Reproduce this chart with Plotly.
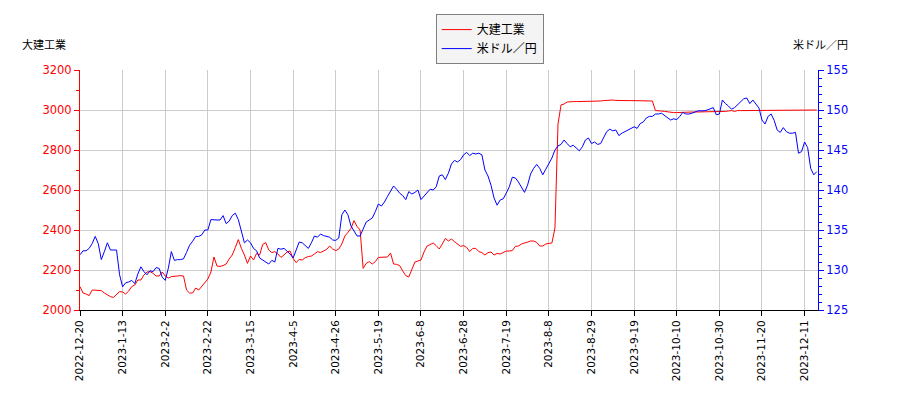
import plotly.graph_objects as go

# tick labels on the date axis (one every 14 trading days)
tick_dates = ["2022-12-20", "2023-1-13", "2023-2-2", "2023-2-22", "2023-3-15",
              "2023-4-5", "2023-4-26", "2023-5-19", "2023-6-8", "2023-6-28",
              "2023-7-19", "2023-8-8", "2023-8-29", "2023-9-19", "2023-10-10",
              "2023-10-30", "2023-11-20", "2023-12-11"]
tick_step = 14

# 大建工業 close (yen), one value per trading day
daiken = [
    2117, 2085, 2080, 2072, 2100, 2100, 2097, 2097, 2085, 2075, 2067, 2063, 2080, 2092,
    2090, 2080, 2095, 2117, 2125, 2150, 2150, 2175, 2190, 2192, 2183, 2170, 2170, 2190,
    2170, 2160, 2167, 2170, 2170, 2172, 2170, 2100, 2085, 2085, 2110, 2100, 2120, 2135,
    2155, 2190, 2265, 2220, 2218, 2222, 2230, 2255, 2275, 2312, 2352, 2308, 2275, 2233,
    2270, 2250, 2283, 2275, 2328, 2337, 2300, 2287, 2292, 2280, 2263, 2275, 2290, 2295,
    2258, 2237, 2253, 2250, 2262, 2267, 2270, 2280, 2292, 2287, 2293, 2303, 2320, 2305,
    2297, 2305, 2330, 2370, 2388, 2408, 2447, 2417, 2400, 2208, 2233, 2242, 2230, 2242,
    2263, 2263, 2263, 2265, 2285, 2230, 2228, 2222, 2195, 2172, 2165, 2205, 2240, 2245,
    2250, 2290, 2320, 2327, 2335, 2322, 2305, 2330, 2358, 2345, 2355, 2342, 2330, 2318,
    2322, 2313, 2292, 2308, 2308, 2292, 2287, 2275, 2287, 2290, 2275, 2283, 2280, 2287,
    2295, 2295, 2297, 2318, 2320, 2330, 2337, 2340, 2345, 2345, 2338, 2320, 2320, 2330,
    2333, 2335, 2410, 2930, 3025, 3030, 3040, 3042, 3042, 3042, 3042, 3042, 3042, 3042,
    3042, 3042, 3045, 3045, 3047, 3048, 3050, 3050, 3048, 3047, 3047, 3047, 3047, 3047,
    3047, 3047, 3047, 3047, 3047, 3047, 3045, 2997, 2997, 2995, 2993, 2990, 2987, 2987,
    2987, 2988, 2990, 2990, 2990, 2990, 2990, 2990, 2990, 2990, 2990, 2990, 2990, 2990,
    2993, 2993, 2993, 2995, 2997, 2993, 2997, 2997, 2997, 2997, 2997, 2997, 2997, 2997,
    2997, 2997, 2997, 2997, 2997, 2997, 2997, 2997, 2997, 2997, 2997, 2997, 2997, 3000,
    3000, 2997, 2997, 3000, 3000,
]

# 米ドル／円 rate, same trading days
usdjpy = [
    131.9, 132.4, 132.4, 132.7, 133.3, 134.2, 133.3, 131.3, 132.3, 133.4, 132.5, 132.5, 132.5, 129.4,
    127.9, 128.4, 128.5, 128.7, 128.3, 129.5, 130.4, 129.8, 129.4, 129.9, 129.8, 130.3, 130.2, 129.1,
    128.7, 130.2, 132.3, 131.2, 131.3, 131.3, 131.4, 132.2, 133.1, 133.6, 134.2, 134.2, 134.4, 135.0,
    135.0, 136.3, 136.25, 136.25, 136.25, 136.8, 135.8, 136.1, 136.8, 137.1, 136.3, 134.8, 133.4, 133.75,
    133.4, 132.7, 132.4, 131.5, 131.25, 130.9, 130.75, 131.2, 131.0, 132.7, 132.6, 132.7, 132.4, 132.0,
    131.5, 132.4, 133.5, 133.4, 133.1, 132.7, 133.4, 134.25, 134.1, 134.5, 134.3, 134.2, 134.1, 133.75,
    133.7, 134.0, 136.9, 137.5, 136.9, 135.5, 134.8, 134.25, 134.25, 135.2, 136.0, 136.25, 136.5, 137.3,
    138.25, 138.0, 138.5, 139.2, 139.9, 140.5, 140.1, 139.6, 139.3, 138.8, 139.8, 139.5, 139.7, 140.0,
    138.8, 139.25, 139.6, 140.1, 140.0, 140.4, 141.75, 141.9, 141.3, 142.1, 143.25, 143.7, 143.5, 143.8,
    144.4, 144.7, 144.3, 144.6, 144.5, 144.6, 144.4, 142.5, 141.75, 140.6, 139.0, 138.1, 138.75, 138.9,
    139.6, 140.4, 141.6, 141.5, 141.0, 140.4, 139.7, 140.6, 142.0, 142.7, 143.2, 142.7, 141.9, 142.6,
    143.3, 144.0, 145.0, 145.5, 145.7, 146.25, 145.8, 145.4, 145.6, 145.3, 144.9, 145.4, 146.25, 146.5,
    145.8, 146.0, 145.7, 145.8, 146.5, 147.3, 147.6, 147.4, 147.5, 146.8, 147.1, 147.3, 147.5, 147.8,
    147.9, 147.7, 148.3, 148.5, 149.0, 149.2, 149.2, 149.5, 149.5, 149.6, 149.3, 149.0, 148.75, 148.9,
    148.8, 149.2, 149.7, 149.5, 149.5, 149.6, 149.8, 149.9, 149.9, 149.9, 150.0, 150.2, 150.3, 149.4,
    149.5, 151.25, 150.8, 150.5, 150.1, 150.3, 150.7, 151.0, 151.4, 151.5, 150.8, 151.25, 150.75, 150.25,
    148.75, 148.25, 149.2, 149.5, 148.7, 147.5, 147.2, 147.8, 147.3, 147.1, 147.1, 147.2, 144.6, 144.8,
    146.0, 145.3, 142.7, 141.9, 142.3, 143.0, 143.8,
]

days = list(range(len(daiken)))
tick_pos = [i * tick_step for i in range(len(tick_dates))]

font = "DejaVu Sans, Noto Sans CJK JP"

fig = go.Figure()
fig.add_trace(go.Scatter(x=days, y=daiken, name="大建工業", mode="lines",
                         line=dict(color="#ff0000", width=1)))
fig.add_trace(go.Scatter(x=days, y=usdjpy, name="米ドル／円", mode="lines",
                         line=dict(color="#0000ff", width=1), yaxis="y2"))

# the page body adds an 8px offset, so the figure is 8px smaller and margins shifted
fig.update_layout(
    width=892, height=392,
    margin=dict(l=72, r=82, t=62, b=90, autoexpand=False),
    paper_bgcolor="white", plot_bgcolor="white",
    font=dict(family=font, size=11, color="#000000"),
    xaxis=dict(range=[0, len(daiken) - 0.6], tickvals=tick_pos, ticktext=tick_dates,
               tickangle=-90, showgrid=True, gridcolor="#cccccc", gridwidth=1,
               showline=True, linecolor="#000000", linewidth=1,
               ticks="outside", ticklen=5, tickcolor="#000000",
               tickfont=dict(size=10.5), zeroline=False, automargin=False),
    yaxis=dict(range=[2000, 3200], dtick=200, showgrid=True, gridcolor="#cccccc",
               showline=True, linecolor="#ff0000", linewidth=1,
               ticks="outside", ticklen=5, tickcolor="#ff0000",
               tickfont=dict(color="#ff0000", size=11.5), zeroline=False,
               automargin=False,
               minor=dict(dtick=100, ticks="outside", ticklen=3,
                          tickcolor="#ff0000", showgrid=False)),
    yaxis2=dict(range=[125, 155], dtick=5, overlaying="y", side="right",
                showgrid=False, showline=True, linecolor="#0000ff", linewidth=1,
                ticks="outside", ticklen=5, tickcolor="#0000ff",
                tickfont=dict(color="#0000ff", size=11.5), zeroline=False,
                automargin=False,
                minor=dict(dtick=1, ticks="outside", ticklen=3,
                           tickcolor="#0000ff", showgrid=False)),
    legend=dict(x=0.482, y=1.233, xanchor="left", yanchor="top",
                bgcolor="#f4f4f4", bordercolor="#808080", borderwidth=1,
                font=dict(size=12)),
    annotations=[
        dict(text="大建工業", xref="paper", yref="paper", x=-0.081, y=1.104,
             xanchor="left", yanchor="middle", showarrow=False, font=dict(size=11)),
        dict(text="米ドル／円", xref="paper", yref="paper", x=1.043, y=1.104,
             xanchor="right", yanchor="middle", showarrow=False, font=dict(size=11)),
    ],
)

fig.write_html("out.html")
